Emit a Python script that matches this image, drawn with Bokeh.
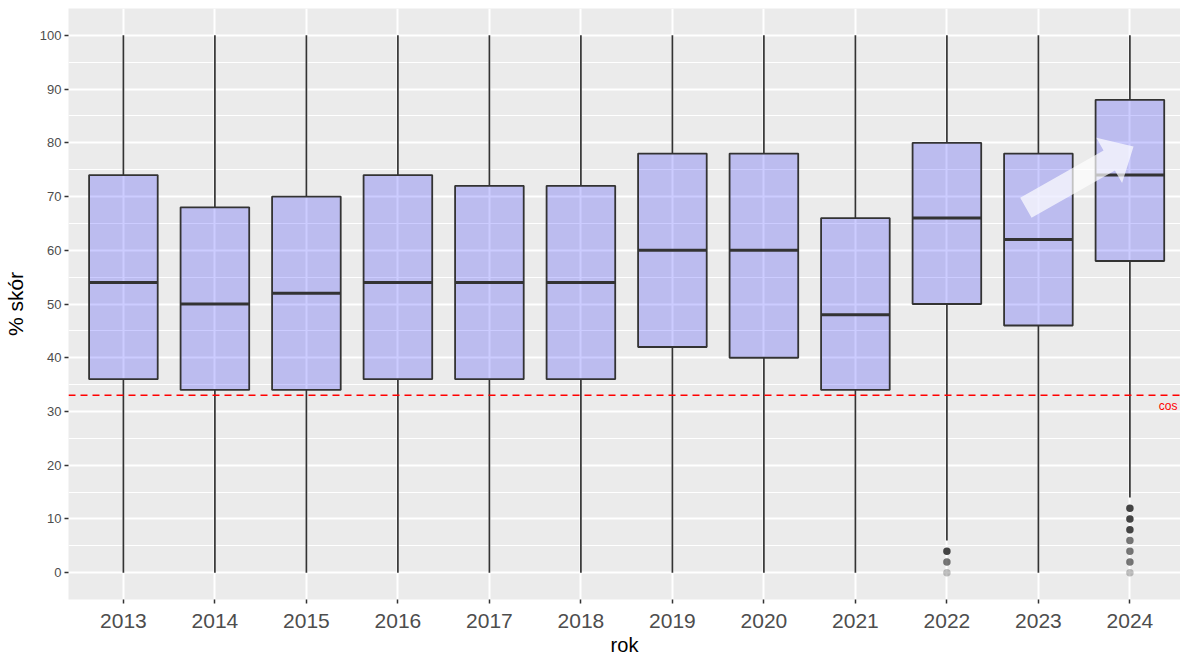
import numpy as np
from bokeh.plotting import figure
from bokeh.models import (Range1d, FixedTicker, SingleIntervalTicker, Span,
                          ColumnDataSource)
from bokeh.core.properties import value
from bokeh.embed import file_html
from bokeh.resources import INLINE

# ---- data ----
years = ["2013", "2014", "2015", "2016", "2017", "2018",
         "2019", "2020", "2021", "2022", "2023", "2024"]
q1 = [36, 34, 34, 36, 36, 36, 42, 40, 34, 50, 46, 58]
median = [54, 50, 52, 54, 54, 54, 60, 60, 48, 66, 62, 74]
q3 = [74, 68, 70, 74, 72, 72, 78, 78, 66, 80, 78, 88]
whisker_low = [0, 0, 0, 0, 0, 0, 0, 0, 0, 6, 0, 14]
whisker_high = [100, 100, 100, 100, 100, 100, 100, 100, 100, 100, 100, 100]
outlier_year = ["2022", "2022", "2022",
                "2024", "2024", "2024", "2024", "2024", "2024", "2024"]
outlier_value = [4, 2, 0, 12, 10, 8, 6, 4, 2, 0]
outlier_count = [7, 3, 1, 7, 7, 7, 3, 3, 3, 1]   # overplotting density
threshold = 33
threshold_label = "cos"
# annotation arrow (from, to) in (year index, value)
arrow_from = (10.863, 67.9)
arrow_to = (12.04, 79.3)

FONT = "Liberation Sans"

x = np.arange(1, len(years) + 1)
BW = 0.75

p = figure(width=1180, height=658, output_backend="svg", toolbar_location=None,
           x_range=Range1d(0.4, 12.553), y_range=Range1d(-5, 105),
           min_border_left=68, min_border_top=8, min_border_right=0,
           min_border_bottom=58)
p.background_fill_color = "#EBEBEB"
p.border_fill_color = "white"
p.outline_line_color = None

# grid
p.xgrid.grid_line_color = "white"
p.xgrid.grid_line_width = 2
p.ygrid.grid_line_color = "white"
p.ygrid.grid_line_width = 2
p.ygrid.minor_grid_line_color = "white"
p.ygrid.minor_grid_line_width = 1

# axes
p.xaxis.ticker = FixedTicker(ticks=list(x))
p.xaxis.major_label_overrides = {int(i): y for i, y in zip(x, years)}
p.yaxis.ticker = SingleIntervalTicker(interval=10, num_minor_ticks=2)
for ax in (p.xaxis[0], p.yaxis[0]):
    ax.axis_line_color = None
    ax.major_tick_line_color = "#333333"
    ax.major_tick_line_width = 1.5
    ax.major_tick_out = 4
    ax.major_tick_in = 0
    ax.minor_tick_line_color = None
    ax.major_label_text_color = "#4D4D4D"
    ax.major_label_text_font = FONT
    ax.axis_label_text_font = FONT
    ax.axis_label_text_font_style = "normal"
    ax.axis_label_text_color = "black"
p.xaxis.axis_label_text_font_size = "20px"
p.yaxis.axis_label_text_font_size = "21px"
p.xaxis.major_label_text_font_size = "21px"
p.yaxis.major_label_text_font_size = "13px"
p.xaxis.major_label_standoff = 10
p.yaxis.major_label_standoff = 3
p.xaxis.axis_label_standoff = 3
p.yaxis.axis_label_standoff = 10
p.xaxis.axis_label = "rok"
p.yaxis.axis_label = "% skór"

# whiskers
p.segment(x0=x, y0=whisker_low, x1=x, y1=q1, line_color="#333333", line_width=1.7)
p.segment(x0=x, y0=q3, x1=x, y1=whisker_high, line_color="#333333", line_width=1.7)

# boxes
p.vbar(x=x, width=BW, bottom=q1, top=q3, fill_color="blue", fill_alpha=0.2,
       line_color="#333333", line_width=1.8)
# medians
p.segment(x0=x - BW / 2, y0=median, x1=x + BW / 2, y1=median,
          line_color="#333333", line_width=3)

# outliers
ox = [years.index(y) + 1 for y in outlier_year]
oalpha = [1 - (1 - 0.3) ** c for c in outlier_count]
osrc = ColumnDataSource(dict(x=ox, y=outlier_value, a=oalpha))
p.scatter("x", "y", source=osrc, size=7.5, fill_color="#333333", line_color=None,
          fill_alpha="a")

# threshold line + label
p.add_layout(Span(location=threshold, dimension="width", line_color="red",
                  line_dash="7 5", line_width=1.5))
p.text(x=[12.315], y=[threshold - 2], text=[threshold_label], text_color="red",
       text_font=value(FONT), text_font_size="12px", text_align="left",
       text_baseline="middle")

# white annotation arrow (built in screen space, converted to data units)
XPX, YPX = 91.5, 5.38
sx, sy = arrow_from[0] * XPX, arrow_from[1] * YPX
tx, ty = arrow_to[0] * XPX, arrow_to[1] * YPX
d = np.array([tx - sx, ty - sy]); u = d / np.linalg.norm(d); n = np.array([-u[1], u[0]])
S = np.array([sx, sy]); T = np.array([tx, ty])
w, h, L = 11.5, 26, 28
B = T - u * L
pts = [S + n * w, B + n * w, B + n * h, T, B - n * h, B - n * w, S - n * w]
p.patch(x=[q[0] / XPX for q in pts], y=[q[1] / YPX for q in pts],
        fill_color="white", fill_alpha=0.7, line_color=None)

open("out.html", "w").write(file_html(p, INLINE))
